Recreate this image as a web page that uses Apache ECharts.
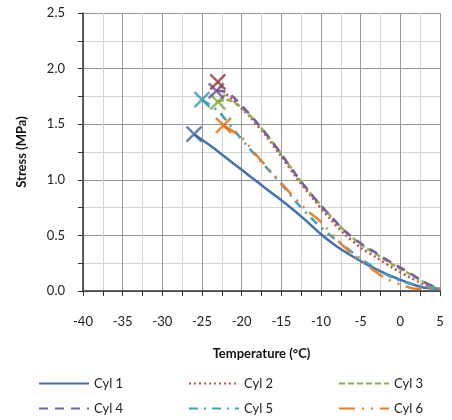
<!DOCTYPE html>
<html>
<head>
<meta charset="utf-8">
<script src="https://cdn.jsdelivr.net/npm/echarts@6/dist/echarts.min.js"></script>
<style>
  html, body { margin: 0; padding: 0; background: #fff; }
  #chart { width: 452px; height: 420px; }
</style>
</head>
<body>
<div id="chart"></div>
<script>
// temperature (°C) / stress (MPa) per cylinder, first point is the failure mark
var cyl1Temp = [-26, -24, -22, -20, -18, -16, -14, -12, -10, -8, -6, -4, -2, 0, 2, 3, 5]
var cyl1Stress = [1.41, 1.31, 1.20, 1.09, 0.98, 0.87, 0.76, 0.64, 0.51, 0.40, 0.31, 0.23, 0.16, 0.10, 0.05, 0.03, 0.02]

var cyl2Temp = [-23, -22.3, -21, -19, -17, -15, -13, -11, -9, -7, -5, -3, -1, 1, 3, 4.5]
var cyl2Stress = [1.88, 1.80, 1.71, 1.57, 1.40, 1.21, 1.01, 0.83, 0.66, 0.51, 0.39, 0.30, 0.21, 0.13, 0.06, 0.03]

var cyl3Temp = [-23, -22, -21, -19, -17, -15, -13, -11, -9, -7, -5, -3, -1, 1, 3, 4.5]
var cyl3Stress = [1.70, 1.72, 1.70, 1.58, 1.42, 1.23, 1.03, 0.85, 0.69, 0.54, 0.42, 0.33, 0.24, 0.16, 0.08, 0.03]

var cyl4Temp = [-23.2, -22, -21, -19, -17, -15, -13, -11, -9, -7, -5, -3, -1, 1, 3, 4.5]
var cyl4Stress = [1.80, 1.79, 1.74, 1.59, 1.42, 1.23, 1.03, 0.85, 0.69, 0.54, 0.43, 0.34, 0.25, 0.17, 0.08, 0.03]

var cyl5Temp = [-25, -23, -21, -19, -17, -15, -13, -11, -9, -7, -5, -3, -1, 1, 3, 5]
var cyl5Stress = [1.72, 1.62, 1.45, 1.28, 1.12, 0.96, 0.79, 0.64, 0.51, 0.40, 0.29, 0.20, 0.12, 0.07, 0.04, 0.02]

var cyl6Temp = [-22.3, -20, -18, -16, -14, -12, -10, -8, -6, -4, -2, 0, 2, 5]
var cyl6Stress = [1.49, 1.38, 1.21, 1.05, 0.89, 0.74, 0.62, 0.46, 0.33, 0.22, 0.12, 0.06, 0.02, 0.02]

var cylNames = ['Cyl 1', 'Cyl 2', 'Cyl 3', 'Cyl 4', 'Cyl 5', 'Cyl 6']
var cylTemps = [cyl1Temp, cyl2Temp, cyl3Temp, cyl4Temp, cyl5Temp, cyl6Temp]
var cylStresses = [cyl1Stress, cyl2Stress, cyl3Stress, cyl4Stress, cyl5Stress, cyl6Stress]

var colors = ['#4372B0', '#C0504D', '#8DB24A', '#7A5C9E', '#3FA3BE', '#E8802E']
var markColors = ['#3B64A0', '#953735', '#7FA63E', '#6B4F8E', '#3599B3', '#E46C0A']
var dashes = ['solid', [2, 3], [6, 3], [9, 7], [9, 6, 2, 6], [16, 7, 2, 7, 2, 7]]

var font = 'Lato'
var xMark = 'path://M0,0 L10,10 M10,0 L0,10'

function pairs(xs, ys) {
	var out = []
	for (var i = 0; i < xs.length; i++) {
		out.push([xs[i], ys[i]])
	}
	return out
}

var series = []
for (var i = 0; i < cylNames.length; i++) {
	series.push({
		name: cylNames[i],
		type: 'line',
		symbol: 'none',
		smooth: 0.3,
		data: pairs(cylTemps[i], cylStresses[i]),
		itemStyle: { color: colors[i] },
		lineStyle: { color: colors[i], width: 2.5, type: dashes[i] },
		z: 2
	})
}
// failure marks drawn on top, red last
var markOrder = [0, 4, 5, 2, 3, 1]
markOrder.forEach(function (i) {
	series.push({
		name: 'mark' + (i + 1),
		type: 'scatter',
		symbol: xMark,
		symbolSize: 15,
		data: [[cylTemps[i][0], cylStresses[i][0]]],
		itemStyle: { color: 'transparent', borderColor: markColors[i], borderWidth: 2.5 },
		z: 5
	})
})

function legendCol(left, names) {
	return {
		data: names,
		orient: 'vertical',
		left: left,
		top: 372,
		height: 48,
		itemWidth: 50,
		itemHeight: 10,
		itemGap: 12,
		itemStyle: { color: 'transparent', borderWidth: 0 },
		textStyle: { fontFamily: font, fontSize: 13, color: '#222' }
	}
}

var option = {
	animation: false,
	backgroundColor: '#fff',
	grid: { left: 83, right: 12, top: 13, bottom: 129 },
	legend: [
		legendCol(33, ['Cyl 1', 'Cyl 4']),
		legendCol(183, ['Cyl 2', 'Cyl 5']),
		legendCol(333, ['Cyl 3', 'Cyl 6'])
	],
	xAxis: {
		type: 'value',
		min: -40,
		max: 5,
		interval: 5,
		name: 'Temperature (°C)',
		nameLocation: 'middle',
		nameGap: 56,
		nameTextStyle: { fontFamily: font, fontSize: 13, fontWeight: 'bold', color: '#111' },
		axisLine: { onZero: false, lineStyle: { color: '#333', width: 1.5 } },
		axisTick: { show: true, length: 5, lineStyle: { color: '#333' } },
		minorTick: { show: true, splitNumber: 2, length: 5, lineStyle: { color: '#333' } },
		axisLabel: { fontFamily: font, fontSize: 13, color: '#222', margin: 24 },
		splitLine: { show: true, lineStyle: { color: '#999', width: 1 } },
		minorSplitLine: { show: true, lineStyle: { color: '#d4d4d4', width: 1 } }
	},
	yAxis: {
		type: 'value',
		min: 0,
		max: 2.5,
		interval: 0.5,
		name: 'Stress (MPa)',
		nameLocation: 'middle',
		nameGap: 55,
		nameTextStyle: { fontFamily: font, fontSize: 13, fontWeight: 'bold', color: '#111' },
		axisLine: { show: true, onZero: false, lineStyle: { color: '#333', width: 1.5 } },
		axisTick: { show: true, length: 5, lineStyle: { color: '#333' } },
		minorTick: { show: true, splitNumber: 2, length: 5, lineStyle: { color: '#333' } },
		axisLabel: {
			fontFamily: font, fontSize: 13, color: '#222', margin: 18,
			formatter: function (v) { return v.toFixed(1) }
		},
		splitLine: { show: true, lineStyle: { color: '#999', width: 1 } },
		minorSplitLine: { show: true, lineStyle: { color: '#d4d4d4', width: 1 } }
	},
	series: series
}

var chart = echarts.init(document.getElementById('chart'))
chart.setOption(option)
</script>
</body>
</html>
